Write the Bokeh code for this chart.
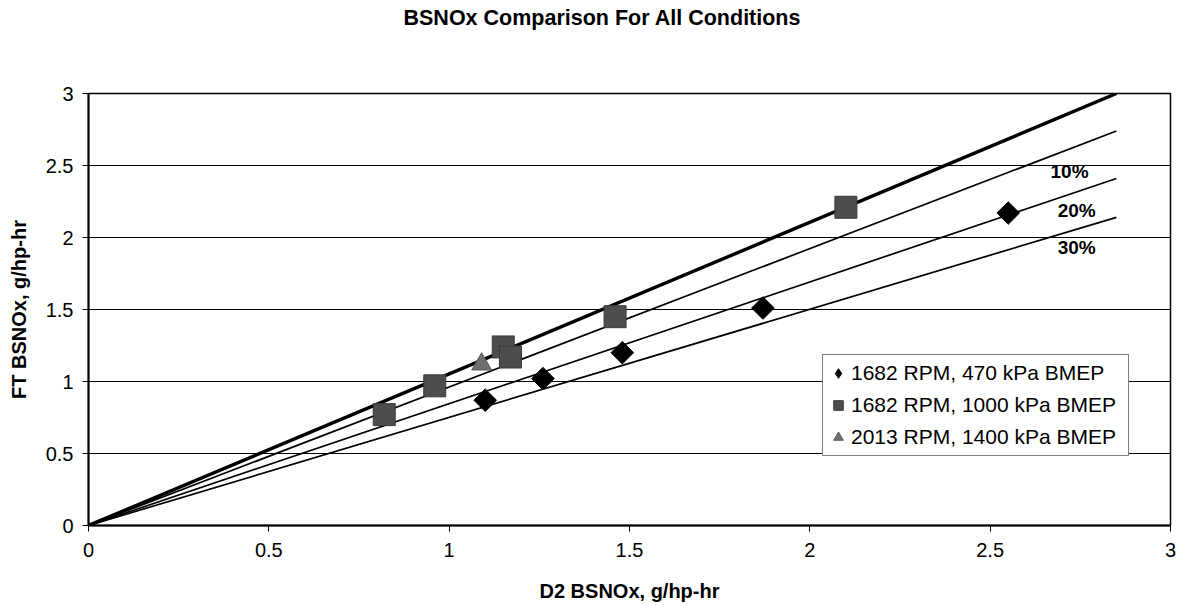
import numpy as np
from bokeh.plotting import figure
from bokeh.models import Range1d, Legend, LegendItem, FixedTicker, NumeralTickFormatter, Title
from bokeh.core.properties import value
from bokeh.embed import file_html
from bokeh.resources import INLINE

# ---------------- data ----------------
title_text = "BSNOx Comparison For All Conditions"
x_label = "D2 BSNOx, g/hp-hr"
y_label = "FT BSNOx, g/hp-hr"

x_ticks = [0, 0.5, 1, 1.5, 2, 2.5, 3]
y_ticks = [0, 0.5, 1, 1.5, 2, 2.5, 3]

s1_name = "1682 RPM, 470 kPa BMEP"
s1_x = [1.10, 1.26, 1.48, 1.87, 2.55]
s1_y = [0.87, 1.02, 1.20, 1.51, 2.17]

s2_name = "1682 RPM, 1000 kPa BMEP"
s2_x = [0.82, 0.96, 1.15, 1.17, 1.46, 2.10]
s2_y = [0.77, 0.97, 1.24, 1.17, 1.45, 2.21]

s3_name = "2013 RPM, 1400 kPa BMEP"
s3_x = [1.09]
s3_y = [1.12]

ref_x = [0, 2.85]
ref_base = [0, 3.00]
ref_10 = [0, 2.74]
ref_20 = [0, 2.41]
ref_30 = [0, 2.14]

pct_labels = ["10%", "20%", "30%"]
pct_x = [2.72, 2.74, 2.74]
pct_y = [2.46, 2.19, 1.93]

FONT = "Liberation Sans"

p = figure(frame_width=1082, frame_height=432,
           min_border_left=88, min_border_right=9, min_border_top=93, min_border_bottom=80,
           x_range=Range1d(0, 3), y_range=Range1d(0, 3),
           output_backend="svg", toolbar_location=None,
           background_fill_color="white", border_fill_color="white")

p.title = None
# spacer (nearest the frame), then the real title above it
p.add_layout(Title(text=" ", text_font=FONT, text_font_size="40px", standoff=18), "above")
p.add_layout(Title(text=title_text, text_font=FONT, text_font_size="21.5px", text_font_style="bold",
                   text_color="black", align="left", offset=315, standoff=0), "above")

p.outline_line_color = "black"
p.outline_line_width = 1.5

p.xgrid.grid_line_color = None
p.ygrid.ticker = FixedTicker(ticks=y_ticks)
p.ygrid.grid_line_color = "black"
p.ygrid.grid_line_width = 1

for ax, ticks, lab in ((p.xaxis[0], x_ticks, x_label), (p.yaxis[0], y_ticks, y_label)):
    ax.ticker = FixedTicker(ticks=ticks)
    ax.formatter = NumeralTickFormatter(format="0.[0]")
    ax.major_label_text_font = FONT
    ax.major_label_text_font_size = "20px"
    ax.major_label_text_color = "black"
    ax.major_tick_in = 0
    ax.major_tick_out = 6
    ax.major_tick_line_color = "black"
    ax.minor_tick_line_color = None
    ax.axis_line_color = "black"
    ax.axis_line_width = 2
    ax.axis_label = lab
    ax.axis_label_text_font = FONT
    ax.axis_label_text_font_size = "20px"
    ax.axis_label_text_font_style = "bold"
    ax.axis_label_text_color = "black"

p.xaxis.major_label_standoff = 11
p.xaxis.axis_label_standoff = 20
p.yaxis.major_label_standoff = 9
p.yaxis.axis_label_standoff = 13

# reference lines
p.line(ref_x, ref_base, line_color="black", line_width=3.4)
p.line(ref_x, ref_10, line_color="black", line_width=1.7)
p.line(ref_x, ref_20, line_color="black", line_width=1.7)
p.line(ref_x, ref_30, line_color="black", line_width=1.7)

p.text(x=pct_x, y=pct_y, text=pct_labels, text_font=value(FONT), text_font_style="bold",
       text_font_size="19px", text_color="black", text_align="center", text_baseline="middle")

# legend proxy for the diamond series (hidden under the real markers)
l1 = p.scatter(s1_x, s1_y, marker="diamond", size=10, fill_color="black", line_color="black")

# data
r1 = p.scatter(s1_x, s1_y, marker="square", angle=np.pi / 4, size=16,
               fill_color="black", line_color="black")
r2 = p.scatter(s2_x, s2_y, marker="square", size=22,
               fill_color="#4d4d4d", line_color="#3a3a3a")
r3 = p.scatter(s3_x, s3_y, marker="triangle", size=20,
               fill_color="#6e6e6e", line_color="#5a5a5a")

legend = Legend(items=[LegendItem(label=s1_name, renderers=[l1]),
                       LegendItem(label=s2_name, renderers=[r2]),
                       LegendItem(label=s3_name, renderers=[r3])],
                location=(734, 69),
                border_line_color="black", border_line_width=1.5,
                background_fill_color="white", background_fill_alpha=1,
                label_text_font=FONT, label_text_font_size="21px", label_text_color="black",
                glyph_width=24, glyph_height=30, spacing=2, padding=3,
                label_standoff=1, label_width=274, margin=0)
p.add_layout(legend, "center")

open("out.html", "w").write(file_html(p, INLINE))
